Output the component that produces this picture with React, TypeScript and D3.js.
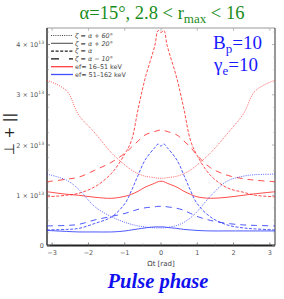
import React from "react";
import * as d3 from "d3";

const phases = [-3.14, -2.6, -2.27, -1.82, -1.36, -0.99, -0.81, -0.63, -0.44, -0.17, -0.08, 0, 0.08, 0.17, 0.44, 0.63, 0.81, 0.99, 1.36, 1.82, 2.27, 2.6, 3.14];

// values in units of 1e13
const redDotted = [3.29, 3.08, 2.6, 2.24, 1.84, 1.6, 1.5, 1.43, 1.38, 1.35, 1.34, 1.34, 1.34, 1.35, 1.38, 1.43, 1.5, 1.6, 1.84, 2.22, 2.62, 3.08, 3.29];
const redSolid = [1.07, 1.02, 1.0, 0.96, 0.94, 0.98, 1.02, 1.08, 1.16, 1.24, 1.27, 1.28, 1.27, 1.24, 1.16, 1.08, 1.02, 0.97, 0.94, 0.96, 1.0, 1.03, 1.07];
const redDashed = [0.97, 1.0, 1.04, 1.17, 1.44, 1.83, 2.1, 2.72, 3.32, 3.98, 4.28, 4.24, 4.28, 3.98, 3.32, 2.72, 2.1, 1.8, 1.4, 1.15, 1.06, 1.0, 0.97];
const redLong = [1.27, 1.32, 1.36, 1.5, 1.66, 1.84, 1.96, 2.08, 2.2, 2.27, 2.29, 2.3, 2.29, 2.27, 2.2, 2.08, 1.96, 1.8, 1.55, 1.4, 1.33, 1.3, 1.27];
const blueDotted = [1.42, 1.3, 1.12, 0.77, 0.57, 0.46, 0.42, 0.39, 0.37, 0.35, 0.35, 0.35, 0.35, 0.36, 0.4, 0.46, 0.55, 0.67, 0.98, 1.28, 1.38, 1.41, 1.42];
const blueSolid = [0.3, 0.28, 0.27, 0.27, 0.27, 0.29, 0.31, 0.33, 0.35, 0.37, 0.37, 0.37, 0.37, 0.36, 0.34, 0.32, 0.31, 0.3, 0.29, 0.29, 0.29, 0.29, 0.29];
const blueDashed = [0.31, 0.32, 0.34, 0.44, 0.57, 0.84, 1.1, 1.4, 1.7, 1.95, 2.02, 1.98, 2.02, 1.95, 1.7, 1.4, 1.1, 0.84, 0.57, 0.41, 0.35, 0.33, 0.31];
const blueLong = [0.39, 0.4, 0.42, 0.51, 0.58, 0.64, 0.68, 0.72, 0.75, 0.77, 0.78, 0.78, 0.78, 0.77, 0.74, 0.7, 0.64, 0.58, 0.5, 0.44, 0.41, 0.4, 0.39];

const xTicks = [-3, -2, -1, 0, 1, 2, 3];
const yTicks = [0, 1, 2, 3, 4];
const legendLabels = ["ζ = α + 60°", "ζ = α + 20°", "ζ = α", "ζ = α − 10°", "ef= 16–51 keV", "ef= 51–162 keV"];

const RED = "#ff2020";
const BLUE = "#2030ff";
const DOT = "1,1.2";
const DASH = "3,1.6";
const LONG = "6,5";

export default function App() {
  const W = 284, H = 299;
  const left = 47, right = 275, top = 28, bottom = 245.5;
  const x = d3.scaleLinear().domain([-Math.PI, Math.PI]).range([left, right]);
  const y = d3.scaleLinear().domain([0, 4.33]).range([bottom, top]);
  const line = d3.line<number>().x((_, i) => x(phases[i])).y((d) => y(d)).curve(d3.curveCatmullRom);

  const series = [
    { v: redDotted, c: RED, da: DOT, w: 0.9 },
    { v: redSolid, c: RED, da: "", w: 1 },
    { v: redDashed, c: RED, da: DASH, w: 1 },
    { v: redLong, c: RED, da: LONG, w: 1 },
    { v: blueDotted, c: BLUE, da: DOT, w: 0.9 },
    { v: blueSolid, c: BLUE, da: "", w: 1 },
    { v: blueDashed, c: BLUE, da: DASH, w: 1 },
    { v: blueLong, c: BLUE, da: LONG, w: 1 },
  ];

  const legendStyles = [
    { c: "#444", da: DOT },
    { c: "#555", da: "" },
    { c: "#222", da: DASH },
    { c: "#111", da: "8,10" },
    { c: "#ff4040", da: "" },
    { c: "#4050ff", da: "" },
  ];

  const minorY = d3.range(0, 4.33, 0.25).filter((v) => Math.abs(v - Math.round(v)) > 0.01);
  const minorX = d3.range(-3, 3.01, 0.5).filter((v) => Math.abs(v - Math.round(v)) > 0.01);

  return (
    <svg width={W} height={H} style={{ position: "absolute", left: 0, top: 0, background: "#fff" }}>
      <defs>
        <clipPath id="clip">
          <rect x={left} y={top} width={right - left} height={bottom - top} />
        </clipPath>
      </defs>
      <text x={162} y={19} textAnchor="middle" fill="#1a8c1a" fontFamily="Liberation Serif, Times New Roman, serif" fontSize={18.5}>
        α=15°, 2.8 &lt; r<tspan fontSize={13} dy={4}>max</tspan><tspan dy={-4}> &lt; 16</tspan>
      </text>

      {/* frame */}
      <line x1={left} x2={right} y1={top} y2={top} stroke="#999" strokeWidth={1} />
      <line x1={right} x2={right} y1={top} y2={bottom} stroke="#333" strokeWidth={1} />
      <line x1={left} x2={left} y1={top} y2={bottom} stroke="#555" strokeWidth={1.8} />
      <line x1={left} x2={right} y1={bottom} y2={bottom} stroke="#222" strokeWidth={1.8} />

      {yTicks.map((t) => (
        <g key={"y" + t}>
          <line x1={left} x2={left + 3} y1={y(t)} y2={y(t)} stroke="#666" strokeWidth={0.8} />
          <line x1={right} x2={right - 3} y1={y(t)} y2={y(t)} stroke="#888" strokeWidth={0.6} />
          <text x={left - 3} y={y(t) + 2.5} textAnchor="end" fontSize={6.5} fill="#555" fontFamily="DejaVu Sans, sans-serif">
            {t === 0 ? "0" : `${t} × 10`}
            {t !== 0 && <tspan fontSize={4.5} dy={-3}>13</tspan>}
          </text>
        </g>
      ))}
      {minorY.map((t) => (
        <g key={"my" + t}>
          <line x1={left} x2={left + 2} y1={y(t)} y2={y(t)} stroke="#888" strokeWidth={0.5} />
          <line x1={right} x2={right - 2} y1={y(t)} y2={y(t)} stroke="#aaa" strokeWidth={0.5} />
        </g>
      ))}
      {xTicks.map((t) => (
        <g key={"x" + t}>
          <line x1={x(t)} x2={x(t)} y1={bottom} y2={bottom - 3} stroke="#666" strokeWidth={0.8} />
          <line x1={x(t)} x2={x(t)} y1={top} y2={top + 3} stroke="#999" strokeWidth={0.6} />
          <text x={x(t)} y={bottom + 9} textAnchor="middle" fontSize={6.5} fill="#555" fontFamily="DejaVu Sans, sans-serif">
            {t < 0 ? `−${-t}` : `${t}`}
          </text>
        </g>
      ))}
      {minorX.map((t) => (
        <line key={"mx" + t} x1={x(t)} x2={x(t)} y1={bottom} y2={bottom - 2} stroke="#888" strokeWidth={0.5} />
      ))}

      <text x={161} y={266} textAnchor="middle" fontSize={7} fill="#444" fontFamily="DejaVu Sans, sans-serif">Ωt [rad]</text>
      <text transform="translate(14,134) rotate(-90)" textAnchor="middle" fontSize={14} fill="#222" fontFamily="DejaVu Sans, sans-serif">⊥ + ||</text>

      <g clipPath="url(#clip)">
        {series.map((s, i) => (
          <path key={i} d={line(s.v) || ""} fill="none" stroke={s.c} strokeWidth={s.w} strokeDasharray={s.da} strokeOpacity={0.8} />
        ))}
      </g>

      {legendLabels.map((l, i) => {
        const ly = 35.5 + i * 7.8;
        const st = legendStyles[i];
        return (
          <g key={"l" + i}>
            <line x1={51} x2={73} y1={ly} y2={ly} stroke={st.c} strokeWidth={i >= 4 ? 1.3 : 1.1} strokeDasharray={st.da} />
            <text x={75} y={ly + 2.2} fontSize={6.4} fill="#444" fontFamily="DejaVu Sans, sans-serif" fontStyle={i < 4 ? "italic" : "normal"}>{l}</text>
          </g>
        );
      })}

      <text x={213} y={49} fill="#1a1aff" fontFamily="Liberation Serif, Times New Roman, serif" fontSize={19}>
        B<tspan fontSize={13} dy={4}>p</tspan><tspan dy={-4}>=10</tspan>
      </text>
      <text x={214} y={71} fill="#1a1aff" fontFamily="Liberation Serif, Times New Roman, serif" fontSize={19}>
        γ<tspan fontSize={13} dy={4}>e</tspan><tspan dy={-4}>=10</tspan>
      </text>

      <text x={158} y={288} textAnchor="middle" fill="#1010ee" fontFamily="Liberation Serif, Times New Roman, serif" fontSize={20.5} fontWeight="bold" fontStyle="italic">Pulse phase</text>
    </svg>
  );
}
